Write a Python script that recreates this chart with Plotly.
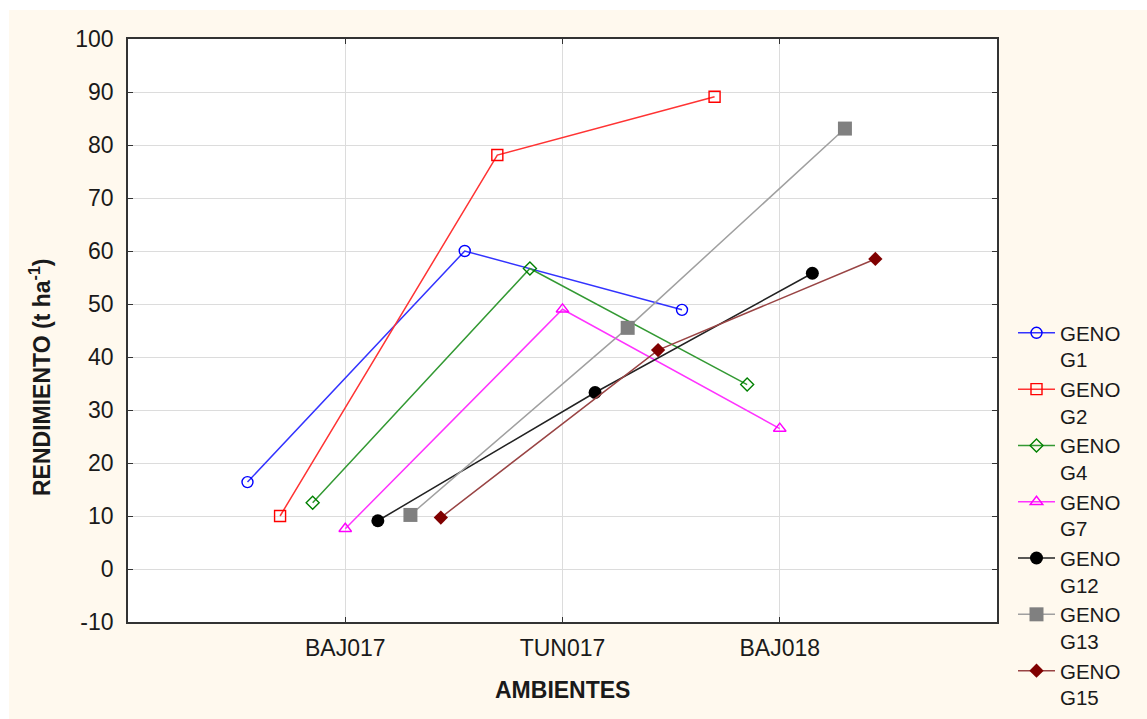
import plotly.graph_objects as go

# ---- data ----
ambientes = ["BAJ017", "TUN017", "BAJ018"]
genotipos = ["G1", "G2", "G4", "G7", "G12", "G13", "G15"]
g1 = [16.4, 60.0, 48.9]
g2 = [10.0, 78.1, 89.1]
g4 = [12.5, 56.7, 34.8]
g7 = [7.6, 49.0, 26.5]
g12 = [9.1, 33.3, 55.8]
g13 = [10.2, 45.5, 83.1]
g15 = [9.7, 41.3, 58.5]
y_ticks = list(range(-10, 101, 10))

series = [g1, g2, g4, g7, g12, g13, g15]

# ---- styles ----
offsets = [-0.45, -0.30, -0.15, 0.0, 0.15, 0.30, 0.44]
colors = ["#0000ff", "#ff0000", "#008000", "#ff00ff", "#000000", "#808080", "#800000"]
line_colors = ["#3333ff", "#ff3333", "#339933", "#ff33ff", "#222222", "#a0a0a0", "#994444"]
symbols = ["circle-open", "square-open", "diamond-open", "triangle-up-open",
           "circle", "square", "diamond"]
sizes = [11, 11, 10, 11, 13, 14, 11]

FONT = "Liberation Sans, Arial, sans-serif"
TXT = "#1a1a1a"

fig = go.Figure()
for i, (name, vals) in enumerate(zip(genotipos, series)):
    xs = [k + offsets[i] for k in range(len(ambientes))]
    filled = not symbols[i].endswith("open")
    fig.add_trace(go.Scatter(
        x=xs, y=vals, mode="lines+markers",
        name="GENO<br>" + name,
        line=dict(color=line_colors[i], width=1.5),
        marker=dict(symbol=symbols[i], size=sizes[i], color=colors[i],
                    line=dict(color=colors[i], width=1.4 if not filled else 0)),
    ))

W, H = 1147, 719
L, R, T, B = 128, 150, 39, 97
pw, ph = W - L - R, H - T - B

def px_x(p):
    return (p - L) / pw

def px_y(p):
    return (H - B - p) / ph

fig.update_layout(
    width=W, height=H,
    margin=dict(l=L, r=R, t=T, b=B, autoexpand=False),
    paper_bgcolor="white",
    plot_bgcolor="white",
    font=dict(family=FONT, size=23, color=TXT),
    showlegend=True,
    legend=dict(
        x=px_x(1013), y=px_y(313), xanchor="left", yanchor="top",
        xref="paper", yref="paper",
        bgcolor="rgba(0,0,0,0)", borderwidth=0,
        font=dict(family=FONT, size=20.5, color=TXT),
        itemwidth=37, valign="top", tracegroupgap=0,
    ),
    shapes=[
        dict(type="rect", xref="paper", yref="paper",
             x0=px_x(9), x1=px_x(W + 5), y0=px_y(H + 5), y1=px_y(10),
             fillcolor="#fff9ee", line=dict(width=0), layer="below"),
        dict(type="rect", xref="paper", yref="paper",
             x0=0, x1=1, y0=0, y1=1,
             fillcolor="white", line=dict(width=0), layer="below"),
    ],
    annotations=[
        dict(text="<b>RENDIMIENTO (t ha<sup>-1</sup>)</b>", xref="paper", yref="paper",
             x=px_x(40), y=px_y(377), textangle=-90, showarrow=False,
             font=dict(family=FONT, size=23, color=TXT),
             xanchor="center", yanchor="middle"),
        dict(text="<b>AMBIENTES</b>", xref="paper", yref="paper",
             x=0.5, y=px_y(690), showarrow=False,
             font=dict(family=FONT, size=23, color=TXT),
             xanchor="center", yanchor="middle"),
    ],
)

fig.update_xaxes(
    range=[-1, 3], tickvals=list(range(len(ambientes))), ticktext=ambientes,
    showgrid=True, gridcolor="#dcdcdc", gridwidth=1.3,
    showline=True, linecolor="#333333", linewidth=1.6, mirror="ticks",
    ticks="inside", ticklen=5, tickcolor="#333333",
    zeroline=False, ticklabelstandoff=5,
    tickfont=dict(family=FONT, size=23, color=TXT),
)
fig.update_yaxes(
    range=[-10, 100], tickvals=y_ticks, ticktext=[str(v) for v in y_ticks],
    showgrid=True, gridcolor="#dcdcdc", gridwidth=1.3,
    showline=True, linecolor="#333333", linewidth=1.6, mirror="ticks",
    ticks="inside", ticklen=5, tickcolor="#333333",
    zeroline=False, ticklabelstandoff=8,
    tickfont=dict(family=FONT, size=23, color=TXT),
)

fig.write_html("out.html",
               config={"displayModeBar": False},
               post_script="document.body.style.margin='0px';document.body.style.padding='0px';")
